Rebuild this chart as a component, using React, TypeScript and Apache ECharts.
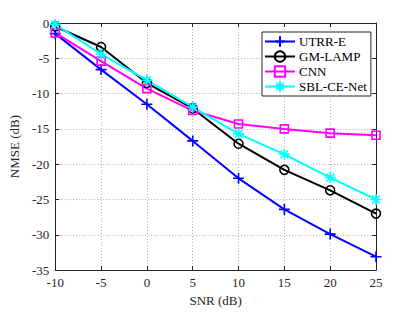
import React, { useEffect, useRef } from "react";
import * as echarts from "echarts";

const snr = [-10, -5, 0, 5, 10, 15, 20, 25];
const utrrE = [-1.5, -6.6, -11.5, -16.7, -22.0, -26.4, -29.9, -33.1];
const gmLamp = [-0.5, -3.4, -8.5, -12.1, -17.1, -20.8, -23.7, -27.0];
const cnn = [-1.4, -5.4, -9.3, -12.4, -14.3, -15.0, -15.6, -15.9];
const sblCeNet = [-0.2, -4.4, -8.1, -11.9, -15.7, -18.6, -21.9, -25.0];
const xTicks = [-10, -5, 0, 5, 10, 15, 20, 25];

const PLUS = "path://M0,-10L0,10M-10,0L10,0";
const STAR = "path://M0,-10L0,10M-10,0L10,0M-7,-7L7,7M-7,7L7,-7";

const font = "'Liberation Serif', 'Times New Roman', serif";

export default function App() {
  const ref = useRef<HTMLDivElement>(null);
  useEffect(() => {
    if (!ref.current) return;
    const chart = echarts.init(ref.current, undefined, { renderer: "svg" });
    const mk = (name: string, data: number[], color: string, symbol: string, size: number) => ({
      name,
      type: "line",
      data: snr.map((x, i) => [x, data[i]]),
      symbol,
      symbolSize: size,
      lineStyle: { color, width: 2 },
      itemStyle: { color: symbol.startsWith("path") ? color : "transparent", borderColor: color, borderWidth: 1.6 },
      emphasis: { disabled: true },
    });
    const axisCommon = {
      axisLine: { show: true, onZero: false, lineStyle: { color: "#262626", width: 1 } },
      axisTick: { show: true, inside: true, length: 4, lineStyle: { color: "#262626" } },
    };
    chart.setOption({
      animation: false,
      backgroundColor: "#ffffff",
      textStyle: { fontFamily: font },
      grid: { left: 54, right: 39, top: 23, bottom: 35, show: false },
      legend: {
        orient: "vertical",
        left: 262,
        top: 32,
        padding: [3, 4, 3, 2],
        itemGap: 2,
        itemWidth: 30,
        itemHeight: 13,
        borderColor: "#262626",
        borderWidth: 1,
        borderRadius: 0,
        backgroundColor: "#ffffff",
        textStyle: { fontFamily: font, fontSize: 13, color: "#000", padding: [0, 0, 0, -1] },
        data: ["UTRR-E", "GM-LAMP", "CNN", "SBL-CE-Net"],
      },
      xAxis: [
        {
          type: "value",
          min: -10,
          max: 25,
          interval: 5,
          name: "SNR (dB)",
          nameLocation: "middle",
          nameGap: 19,
          nameTextStyle: { fontFamily: font, fontSize: 13, color: "#262626" },
          ...axisCommon,
          axisLabel: {
            fontFamily: font,
            fontSize: 13,
            color: "#262626",
            margin: 6,
            customValues: xTicks,
          },
          splitLine: { show: true, lineStyle: { color: "#b0b0b0", type: [1, 2], width: 1 } },
        },
        {
          type: "value",
          position: "top",
          min: -10,
          max: 25,
          interval: 5,
          ...axisCommon,
          axisLabel: { show: false },
          splitLine: { show: false },
        },
      ],
      yAxis: [
        {
          type: "value",
          min: -35,
          max: 0,
          interval: 5,
          name: "NMSE (dB)",
          nameLocation: "middle",
          nameGap: 25,
          nameTextStyle: { fontFamily: font, fontSize: 13, color: "#262626" },
          ...axisCommon,
          axisLabel: { fontFamily: font, fontSize: 13, color: "#262626", margin: 6 },
          splitLine: { show: true, lineStyle: { color: "#b0b0b0", type: [1, 2], width: 1 } },
        },
        {
          type: "value",
          position: "right",
          min: -35,
          max: 0,
          interval: 5,
          ...axisCommon,
          axisLabel: { show: false },
          splitLine: { show: false },
        },
      ],
      series: [
        mk("UTRR-E", utrrE, "#0000ff", PLUS, 11),
        mk("GM-LAMP", gmLamp, "#000000", "circle", 9),
        mk("CNN", cnn, "#ff00ff", "rect", 8),
        mk("SBL-CE-Net", sblCeNet, "#00ffff", STAR, 11),
      ],
    });
    return () => chart.dispose();
  }, []);
  return (
    <div
      ref={ref}
      style={{ position: "absolute", left: 0, top: 0, width: 415, height: 312 }}
    />
  );
}
